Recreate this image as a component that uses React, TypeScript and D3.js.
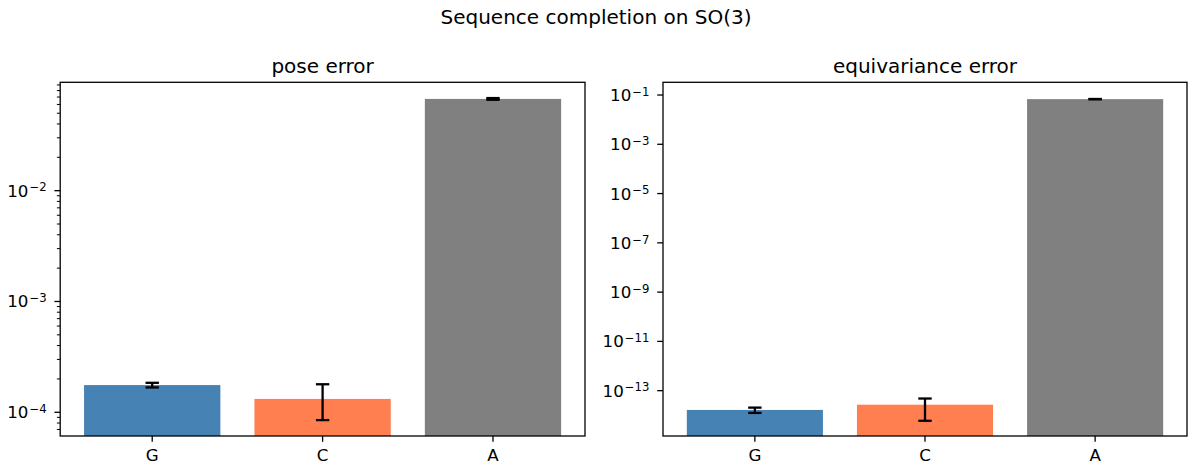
import React from "react";
import * as d3 from "d3";

const categories = ["G", "C", "A"];
const colors = ["#4682b4", "#ff7f50", "#808080"];
const poseValues = [1.76e-4, 1.32e-4, 0.0673];
const poseErrors = [0.085e-4, 0.47e-4, 0.0012];
const equivValues = [1.65e-14, 2.7e-14, 0.068];
const equivErrors = [0.4e-14, 2.1e-14, 0.001];
const poseTicks = [-4, -3, -2];
const equivTicks = [-13, -11, -9, -7, -5, -3, -1];

const W = 1192;
const H = 466;
const TOP = 82.3;
const BOTTOM = 436;
const FONT = "DejaVu Sans, sans-serif";
const TICK_FS = 16.7;
const TITLE_FS = 20;

type PanelProps = {
  x0: number;
  x1: number;
  title: string;
  values: number[];
  errors: number[];
  logDomain: [number, number];
  ticks: number[];
  minor: boolean;
};

function Panel({ x0, x1, title, values, errors, logDomain, ticks, minor }: PanelProps) {
  const x = d3.scaleLinear().domain([-0.54, 2.54]).range([x0, x1]);
  const y = d3
    .scaleLog()
    .domain([Math.pow(10, logDomain[0]), Math.pow(10, logDomain[1])])
    .range([BOTTOM, TOP]);
  const bw = x(0.4) - x(0);
  const minorTicks: number[] = [];
  if (minor) {
    for (let e = Math.floor(logDomain[0]); e <= Math.ceil(logDomain[1]); e++) {
      for (let m = 2; m <= 9; m++) {
        const v = m * Math.pow(10, e);
        const lv = Math.log10(v);
        if (lv >= logDomain[0] && lv <= logDomain[1]) minorTicks.push(v);
      }
    }
  }
  const cap = 6.7;
  return (
    <g>
      {values.map((v, i) => (
        <rect
          key={"b" + i}
          x={x(i) - bw}
          width={bw * 2}
          y={y(v)}
          height={BOTTOM - y(v)}
          fill={colors[i]}
        />
      ))}
      {values.map((v, i) => {
        const hi = y(v + errors[i]);
        const lo = y(Math.max(v - errors[i], 1e-30));
        const cx = x(i);
        return (
          <g key={"e" + i} stroke="#000" strokeWidth={2.3} fill="none">
            <line x1={cx} x2={cx} y1={hi} y2={lo} />
            <line x1={cx - cap} x2={cx + cap} y1={hi} y2={hi} />
            <line x1={cx - cap} x2={cx + cap} y1={lo} y2={lo} />
          </g>
        );
      })}
      <rect x={x0} y={TOP} width={x1 - x0} height={BOTTOM - TOP} fill="none" stroke="#000" strokeWidth={1.3} />
      {ticks.map((t) => {
        const ty = y(Math.pow(10, t));
        return (
          <g key={"t" + t}>
            <line x1={x0} x2={x0 - 5.8} y1={ty} y2={ty} stroke="#000" strokeWidth={1.3} />
            <text x={x0 - 13.5} y={ty + 6} textAnchor="end" fontFamily={FONT} fontSize={TICK_FS} fill="#000">
              10
              <tspan dy={-5.2} dx={1} fontSize={11.7}>{"\u2212" + Math.abs(t)}</tspan>
            </text>
          </g>
        );
      })}
      {minorTicks.map((v, i) => (
        <line key={"m" + i} x1={x0} x2={x0 - 3.3} y1={y(v)} y2={y(v)} stroke="#000" strokeWidth={1} />
      ))}
      {categories.map((c, i) => (
        <g key={"x" + i}>
          <line x1={x(i)} x2={x(i)} y1={BOTTOM} y2={BOTTOM + 5.8} stroke="#000" strokeWidth={1.3} />
          <text x={x(i)} y={BOTTOM + 25} textAnchor="middle" fontFamily={FONT} fontSize={TICK_FS} fill="#000">
            {c}
          </text>
        </g>
      ))}
      <text x={(x0 + x1) / 2} y={73.3} textAnchor="middle" fontFamily={FONT} fontSize={TITLE_FS} fill="#000">
        {title}
      </text>
    </g>
  );
}

export default function App() {
  return (
    <svg width={W} height={H} style={{ position: "absolute", left: 0, top: 0, background: "#fff" }}>
      <rect width={W} height={H} fill="#fff" />
      <text x={596} y={24.3} textAnchor="middle" fontFamily={FONT} fontSize={TITLE_FS} fill="#000">
        Sequence completion on SO(3)
      </text>
      <Panel
        x0={60.2}
        x1={585}
        title="pose error"
        values={poseValues}
        errors={poseErrors}
        logDomain={[-4.214, -1.022]}
        ticks={poseTicks}
        minor={true}
      />
      <Panel
        x0={663}
        x1={1187}
        title="equivariance error"
        values={equivValues}
        errors={equivErrors}
        logDomain={[-14.84, -0.484]}
        ticks={equivTicks}
        minor={false}
      />
    </svg>
  );
}
